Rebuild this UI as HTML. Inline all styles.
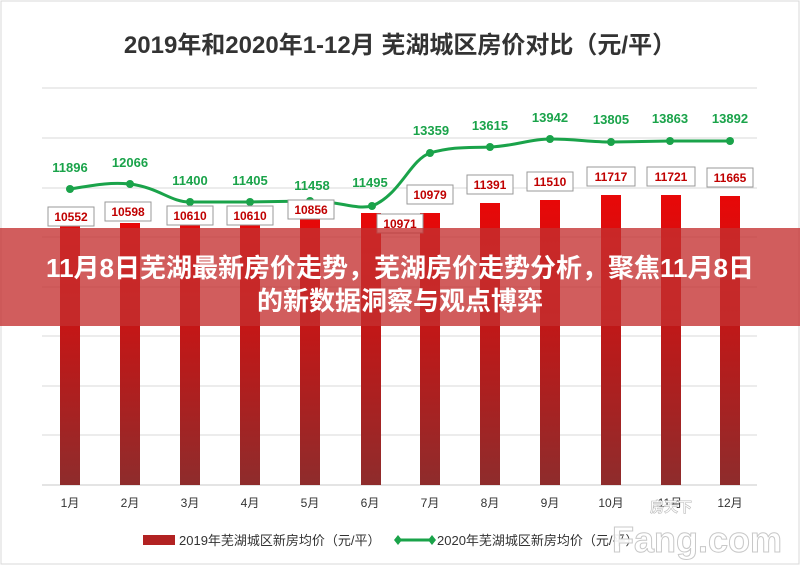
<!DOCTYPE html>
<html><head><meta charset="utf-8"><style>
body{margin:0;width:800px;height:565px;overflow:hidden;background:#fff;font-family:"Liberation Sans","Noto Sans CJK SC",sans-serif}
</style></head><body>
<svg width="800" height="565" xmlns="http://www.w3.org/2000/svg" style="position:absolute;left:0;top:0">
<defs>
<linearGradient id="g" x1="0" y1="0" x2="0" y2="1"><stop offset="0" stop-color="#e80808"/><stop offset="1" stop-color="#8e2c2c"/></linearGradient>
</defs>
<rect x="1" y="1" width="798" height="563" fill="#fff" stroke="#d8d8d8"/>
<text x="400" y="53" text-anchor="middle" font-size="24" font-weight="bold" fill="#333" font-family="Liberation Sans,Noto Sans CJK SC,sans-serif">2019年和2020年1-12月 芜湖城区房价对比（元/平）</text>
<g stroke="#d9d9d9" stroke-width="1">
<line x1="42" y1="88" x2="757" y2="88"/><line x1="42" y1="138" x2="757" y2="138"/><line x1="42" y1="188" x2="757" y2="188"/><line x1="42" y1="237" x2="757" y2="237"/><line x1="42" y1="287" x2="757" y2="287"/><line x1="42" y1="336" x2="757" y2="336"/><line x1="42" y1="386" x2="757" y2="386"/><line x1="42" y1="435" x2="757" y2="435"/>
<line x1="42" y1="485" x2="757" y2="485" stroke="#c8c8c8"/>
</g>
<g fill="url(#g)">
<rect x="60" y="224" width="20" height="261"/><rect x="120" y="223" width="20" height="262"/><rect x="180" y="222" width="20" height="263"/><rect x="240" y="222" width="20" height="263"/><rect x="300" y="216" width="20" height="269"/><rect x="361" y="213" width="20" height="272"/><rect x="420" y="213" width="20" height="272"/><rect x="480" y="203" width="20" height="282"/><rect x="540" y="200" width="20" height="285"/><rect x="601" y="195" width="20" height="290"/><rect x="661" y="195" width="20" height="290"/><rect x="720" y="196" width="20" height="289"/>
</g>
<path d="M70,189 C95,185 110,182 130,184 C160,188 170,202 190,202 L250,202 L310,201 C340,201 355,210 372,206 C400,195 410,160 430,153 C455,146 470,148 490,147 C515,146 530,139 550,139 C575,139 590,142 611,142 L670,141 L730,141" fill="none" stroke="#1aa34a" stroke-width="3"/>
<g fill="#1aa34a">
<circle cx="70" cy="189" r="4"/><circle cx="130" cy="184" r="4"/><circle cx="190" cy="202" r="4"/><circle cx="250" cy="202" r="4"/><circle cx="310" cy="201" r="4"/><circle cx="372" cy="206" r="4"/><circle cx="430" cy="153" r="4"/><circle cx="490" cy="147" r="4"/><circle cx="550" cy="139" r="4"/><circle cx="611" cy="142" r="4"/><circle cx="670" cy="141" r="4"/><circle cx="730" cy="141" r="4"/>
</g>
<g font-size="13" font-weight="bold" fill="#1aa34a" text-anchor="middle">
<text x="70" y="172">11896</text><text x="130" y="167">12066</text><text x="190" y="185">11400</text><text x="250" y="185">11405</text><text x="312" y="190">11458</text><text x="370" y="187">11495</text><text x="431" y="135">13359</text><text x="490" y="130">13615</text><text x="550" y="122">13942</text><text x="611" y="124">13805</text><text x="670" y="123">13863</text><text x="730" y="123">13892</text>
</g>
<g fill="#fff" stroke="#999" stroke-width="1">
<rect x="48" y="207" width="46" height="19"/><rect x="105" y="202" width="46" height="19"/><rect x="167" y="206" width="46" height="19"/><rect x="227" y="206" width="46" height="19"/><rect x="288" y="200" width="46" height="19"/><rect x="377" y="214" width="46" height="19"/><rect x="407" y="185" width="46" height="19"/><rect x="467" y="175" width="46" height="19"/><rect x="527" y="172" width="46" height="19"/><rect x="587" y="167" width="48" height="19"/><rect x="647" y="167" width="48" height="19"/><rect x="707" y="168" width="46" height="19"/>
</g>
<g font-size="12" font-weight="bold" fill="#c00000" text-anchor="middle">
<text x="71" y="221">10552</text><text x="128" y="216">10598</text><text x="190" y="220">10610</text><text x="250" y="220">10610</text><text x="311" y="214">10856</text><text x="400" y="228">10971</text><text x="430" y="199">10979</text><text x="490" y="189">11391</text><text x="550" y="186">11510</text><text x="611" y="181">11717</text><text x="671" y="181">11721</text><text x="730" y="182">11665</text>
</g>
<g font-size="12" fill="#333" text-anchor="middle">
<text x="70" y="507">1月</text><text x="130" y="507">2月</text><text x="190" y="507">3月</text><text x="250" y="507">4月</text><text x="310" y="507">5月</text><text x="370" y="507">6月</text><text x="430" y="507">7月</text><text x="490" y="507">8月</text><text x="550" y="507">9月</text><text x="611" y="507">10月</text><text x="670" y="507">11月</text><text x="730" y="507">12月</text>
</g>
<rect x="143" y="535" width="32" height="10" fill="#b22222"/>
<text x="179" y="545" font-size="13" fill="#333">2019年芜湖城区新房均价（元/平）</text>
<line x1="398" y1="540" x2="432" y2="540" stroke="#1aa34a" stroke-width="3"/>
<path d="M398,535 L402,540 L398,545 L394,540Z M432,535 L436,540 L432,545 L428,540Z" fill="#1aa34a"/>
<text x="437" y="545" font-size="13" fill="#333">2020年芜湖城区新房均价（元/平）</text>
<rect x="0" y="228" width="800" height="98" fill="rgba(196,48,48,0.78)"/>
<g font-size="26" font-weight="bold" fill="#fff" text-anchor="middle">
<text x="400" y="277">11月8日芜湖最新房价走势，芜湖房价走势分析，聚焦11月8日</text>
<text x="400" y="310">的新数据洞察与观点博弈</text>
</g>
<text x="612" y="552" font-size="36" font-weight="bold" fill="rgba(255,255,255,0.9)" stroke="#c8c8c8" stroke-width="1">Fang.com</text>
<text x="650" y="512" font-size="14" font-weight="bold" fill="#fff" stroke="#bbb" stroke-width="0.6">房天下</text>
</svg>
</body></html>
